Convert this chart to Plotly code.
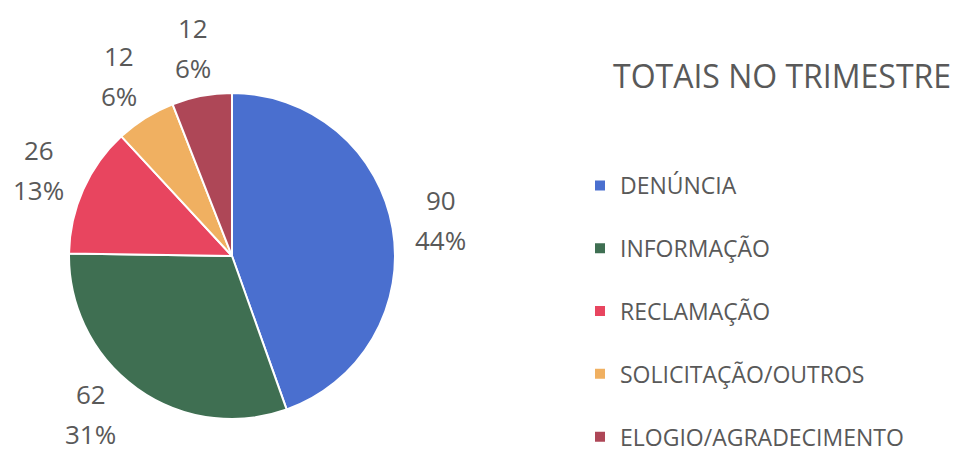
import math
import plotly.graph_objects as go

categories = ["DENÚNCIA", "INFORMAÇÃO", "RECLAMAÇÃO", "SOLICITAÇÃO/OUTROS", "ELOGIO/AGRADECIMENTO"]
counts = [90, 62, 26, 12, 12]
percent_labels = ["44%", "31%", "13%", "6%", "6%"]
colors = ["#4a6fcf", "#3f6f52", "#e8455f", "#f0b061", "#ae4757"]

W, H = 973, 454
OFF = 8  # page body margin shifts the figure by 8px
text_grey = "#595959"
font_family = "Open Sans, Lato, sans-serif"


def px_x(x):
    return (x - OFF) / W


def px_y(y):
    return (H - (y - OFF)) / H


# pie placement in page pixels
cx, cy, R = 232, 256, 163
label_r = 1.3 * R
line_gap = 20
label_max_y = 414  # keep two-line labels inside the bottom edge

# extra blank line under legend labels opens up the vertical spacing
legend_labels = [c + "<br> " for c in categories[:-1]] + [categories[-1]]

fig = go.Figure()
fig.add_trace(go.Pie(
    labels=legend_labels,
    values=counts,
    customdata=percent_labels,
    marker=dict(colors=colors, line=dict(color="white", width=2)),
    sort=False,
    direction="clockwise",
    rotation=0,
    textinfo="none",
    domain=dict(x=[px_x(cx - R), px_x(cx + R)], y=[px_y(cy + R), px_y(cy - R)]),
    hovertemplate="%{label}: %{value} (%{customdata})<extra></extra>",
))

# outside-end data labels, placed on each slice's mid angle
total = sum(counts)
cum = 0
for v, pct in zip(counts, percent_labels):
    mid = (cum + v / 2) / total * 2 * math.pi
    cum += v
    sx, sy = math.sin(mid), -math.cos(mid)
    ly = cy + label_r * sy
    lx = cx + label_r * sx
    if ly > label_max_y:
        # slide along the label circle until it fits
        ly = label_max_y
        dx = math.sqrt(label_r ** 2 - (ly - cy) ** 2)
        lx = cx + math.copysign(dx, sx)
    for txt, dy in ((str(v), -line_gap), (pct, line_gap)):
        fig.add_annotation(
            text=txt, x=px_x(lx), y=px_y(ly + dy),
            xref="paper", yref="paper", showarrow=False,
            xanchor="center", yanchor="middle",
            font=dict(size=26, color=text_grey, family=font_family),
        )

fig.add_annotation(
    text="TOTAIS NO TRIMESTRE", x=px_x(782), y=px_y(75),
    xref="paper", yref="paper", showarrow=False,
    xanchor="center", yanchor="middle",
    font=dict(size=32, color=text_grey, family=font_family),
)

fig.update_layout(
    width=W, height=H,
    margin=dict(l=0, r=0, t=0, b=0, autoexpand=False),
    paper_bgcolor="white", plot_bgcolor="white",
    font=dict(family=font_family, color=text_grey),
    legend=dict(
        x=px_x(580), y=px_y(164), xanchor="left", yanchor="top",
        valign="top", font=dict(size=23, color=text_grey, family=font_family),
        bgcolor="rgba(0,0,0,0)", maxheight=400,
    ),
)

fig.write_html("out.html")
